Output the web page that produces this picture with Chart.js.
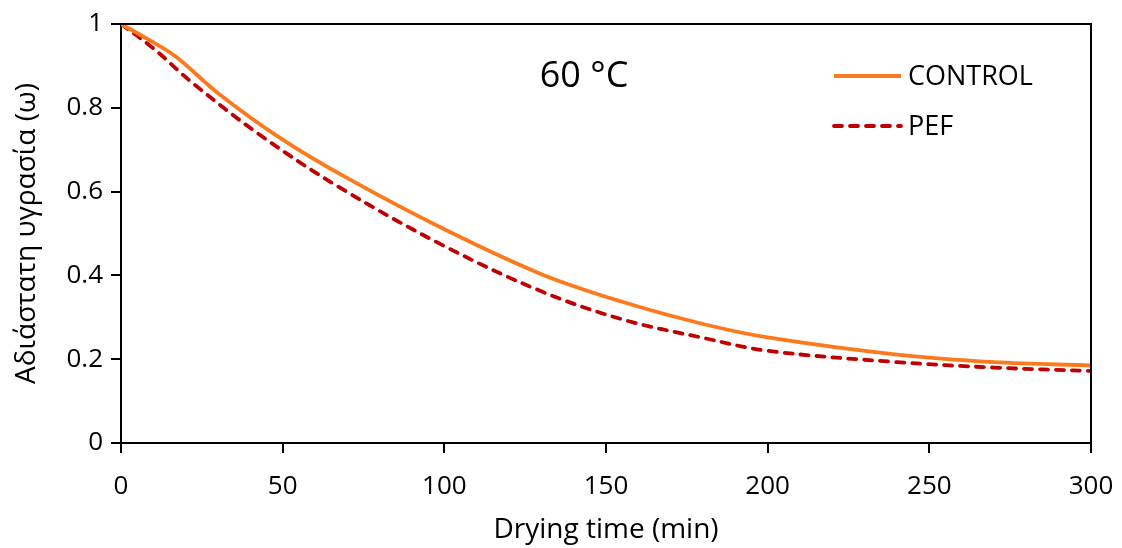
<!DOCTYPE html>
<html>
<head>
<meta charset="utf-8">
<script src="https://cdn.jsdelivr.net/npm/chart.js@4.4.1/dist/chart.umd.min.js"></script>
<style>
  html, body { margin: 0; padding: 0; background: #fff; }
  #wrap { width: 1122px; height: 548px; }
</style>
</head>
<body>
<div id="wrap"><canvas id="c" width="1122" height="548"></canvas></div>
<script>
// ---- data ----
const controlTime = [0, 8, 17, 30, 50, 70, 100, 130, 155, 180, 200, 240, 270, 300];
const controlValues = [1.0, 0.965, 0.922, 0.835, 0.724, 0.632, 0.510, 0.403, 0.337, 0.284, 0.252, 0.211, 0.193, 0.185];
const pefTime = [0, 10, 22, 43, 68, 100, 130, 155, 180, 200, 240, 270, 300];
const pefValues = [1.0, 0.942, 0.860, 0.735, 0.608, 0.470, 0.362, 0.295, 0.251, 0.220, 0.193, 0.180, 0.172];
const seriesNames = ['CONTROL', 'PEF'];
const xTicks = [0, 50, 100, 150, 200, 250, 300];
const yTicks = [0, 0.2, 0.4, 0.6, 0.8, 1];
const xTitle = 'Drying time (min)';
const yTitle = 'Αδιάστατη υγρασία (ω)';
const annotationText = '60 °C';

const FONT = '"Open Sans", "Noto Sans", "DejaVu Sans", sans-serif';

const toPts = (xs, ys) => xs.map((x, i) => ({ x: x, y: ys[i] }));

const framePlugin = {
  id: 'frame',
  afterDraw(chart) {
    const { ctx, chartArea: a } = chart;
    ctx.save();
    ctx.strokeStyle = '#000';
    ctx.lineWidth = 2;
    ctx.beginPath();
    ctx.moveTo(a.left, a.top);
    ctx.lineTo(a.right, a.top);
    ctx.lineTo(a.right, a.bottom);
    ctx.stroke();
    // annotation
    ctx.fillStyle = '#000';
    ctx.font = '36px ' + FONT;
    ctx.textAlign = 'center';
    ctx.textBaseline = 'middle';
    ctx.fillText(annotationText, 584, 77);
    // legend
    const ys = [76, 126];
    chart.data.datasets.forEach((ds, i) => {
      ctx.save();
      ctx.strokeStyle = ds.borderColor;
      ctx.lineWidth = ds.borderWidth;
      ctx.lineCap = ds.borderCapStyle || 'butt';
      ctx.setLineDash(ds.borderDash || []);
      ctx.beginPath();
      ctx.moveTo(834, ys[i]);
      ctx.lineTo(901, ys[i]);
      ctx.stroke();
      ctx.restore();
      ctx.fillStyle = '#000';
      ctx.font = '27px ' + FONT;
      ctx.textAlign = 'left';
      ctx.textBaseline = 'middle';
      ctx.fillText(ds.label, 908, ys[i] + 1);
    });
    ctx.restore();
  }
};

new Chart(document.getElementById('c'), {
  type: 'line',
  data: {
    datasets: [
      {
        label: seriesNames[0],
        data: toPts(controlTime, controlValues),
        borderColor: '#FC7A1E',
        borderWidth: 3.8,
        pointRadius: 0,
        tension: 0.35,
        fill: false
      },
      {
        label: seriesNames[1],
        data: toPts(pefTime, pefValues),
        borderColor: '#C00000',
        borderWidth: 3.8,
        borderDash: [8, 8],
        borderCapStyle: 'round',
        pointRadius: 0,
        tension: 0.35,
        fill: false
      }
    ]
  },
  options: {
    responsive: false,
    animation: false,
    layout: { padding: { top: 24, right: 31, left: 0, bottom: 0 } },
    plugins: { legend: { display: false }, tooltip: { enabled: false } },
    scales: {
      x: {
        type: 'linear',
        min: 0, max: 300,
        afterBuildTicks(s) { s.ticks = xTicks.map(v => ({ value: v })); },
        afterFit(s) { s.height = 105; s.paddingLeft = 0; s.paddingRight = 0; },
        ticks: { color: '#000', font: { family: FONT, size: 26 }, padding: 18, maxRotation: 0 },
        grid: { drawOnChartArea: false, drawTicks: true, tickLength: 10, color: '#000', lineWidth: 2 },
        border: { display: true, color: '#000', width: 2 },
        title: { display: true, text: xTitle, color: '#000', font: { family: FONT, size: 28 }, padding: { top: 0, bottom: 1 } }
      },
      y: {
        min: 0, max: 1,
        afterBuildTicks(s) { s.ticks = yTicks.map(v => ({ value: v })); },
        afterFit(s) { s.width = 121; s.paddingTop = 0; s.paddingBottom = 0; },
        ticks: { color: '#000', font: { family: FONT, size: 26 }, padding: 8, callback: v => String(v) },
        grid: { drawOnChartArea: false, drawTicks: true, tickLength: 10, color: '#000', lineWidth: 2 },
        border: { display: true, color: '#000', width: 2 },
        title: { display: true, text: yTitle, color: '#000', font: { family: FONT, size: 28 }, padding: { top: 10, bottom: 0 } }
      }
    }
  },
  plugins: [framePlugin]
});
</script>
</body>
</html>
